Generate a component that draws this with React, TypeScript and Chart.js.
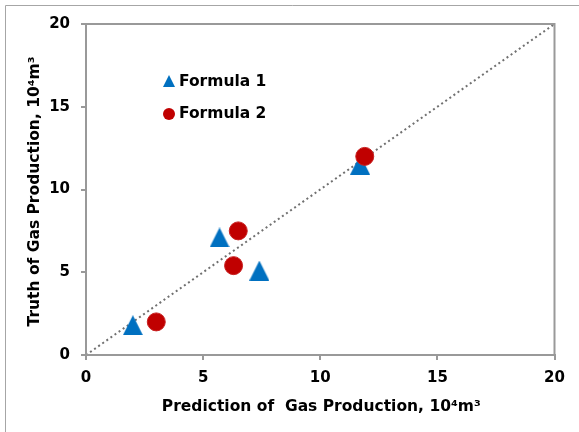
import React, { useEffect, useRef } from "react";
import { Chart, registerables } from "chart.js";

Chart.register(...registerables);

const formula1X = [2.0, 5.7, 7.4, 11.7];
const formula1Y = [1.8, 7.1, 5.1, 11.5];
const formula2X = [3.0, 6.5, 6.3, 11.9];
const formula2Y = [2.0, 7.5, 5.4, 12.0];
const diagonal = [0, 20];
const axisTicks = [0, 5, 10, 15, 20];
const seriesNames = ["Formula 1", "Formula 2"];
const xTitle = "Prediction of  Gas Production, 10\u2074m\u00B3";
const yTitle = "Truth of Gas Production, 10\u2074m\u00B3";

const BLUE = "#0070C0";
const RED = "#C00000";
const AXIS = "#999999";
const FONT = "'DejaVu Sans', sans-serif";

function makeTriangle(w: number, h: number, color: string) {
  const c = document.createElement("canvas");
  c.width = w;
  c.height = h;
  const g = c.getContext("2d")!;
  g.fillStyle = color;
  g.beginPath();
  g.moveTo(w / 2, 0);
  g.lineTo(w, h);
  g.lineTo(0, h);
  g.closePath();
  g.fill();
  return c;
}

export default function App() {
  const ref = useRef<HTMLCanvasElement>(null);

  useEffect(() => {
    const tri = makeTriangle(20, 20, BLUE);

    const decor = {
      id: "decor",
      beforeDraw(chart: any) {
        const ctx = chart.ctx;
        ctx.save();
        ctx.fillStyle = "#ffffff";
        ctx.fillRect(0, 0, chart.width, chart.height);
        ctx.strokeStyle = "#a6a6a6";
        ctx.lineWidth = 1;
        ctx.beginPath();
        ctx.moveTo(5.5, chart.height);
        ctx.lineTo(5.5, 5.5);
        ctx.lineTo(chart.width, 5.5);
        ctx.stroke();
        ctx.restore();
      },
      afterDraw(chart: any) {
        const ctx = chart.ctx;
        const a = chart.chartArea;
        ctx.save();
        ctx.strokeStyle = AXIS;
        ctx.lineWidth = 2;
        ctx.strokeRect(a.left, a.top, a.right - a.left, a.bottom - a.top);
        // titles
        ctx.fillStyle = "#000";
        ctx.font = `bold 15.5px ${FONT}`;
        ctx.textAlign = "center";
        ctx.textBaseline = "middle";
        ctx.fillText(xTitle, (a.left + a.right) / 2 + 1, 407);
        ctx.save();
        ctx.translate(35, (a.top + a.bottom) / 2 + 2);
        ctx.rotate(-Math.PI / 2);
        ctx.fillText(yTitle, 0, 0);
        ctx.restore();
        // legend
        const lx = 169;
        const ly = [81, 114];
        ctx.fillStyle = BLUE;
        ctx.beginPath();
        ctx.moveTo(lx, ly[0] - 6);
        ctx.lineTo(lx + 6, ly[0] + 6);
        ctx.lineTo(lx - 6, ly[0] + 6);
        ctx.closePath();
        ctx.fill();
        ctx.fillStyle = RED;
        ctx.beginPath();
        ctx.arc(lx, ly[1], 6, 0, Math.PI * 2);
        ctx.fill();
        ctx.fillStyle = "#000";
        ctx.textAlign = "left";
        ctx.fillText(seriesNames[0], 179, ly[0] + 1);
        ctx.fillText(seriesNames[1], 179, ly[1]);
        ctx.restore();
      },
    };

    const chart = new Chart(ref.current!, {
      type: "scatter",
      data: {
        datasets: [
          {
            label: seriesNames[1],
            data: formula2X.map((x, i) => ({ x, y: formula2Y[i] })),
            pointStyle: "circle",
            pointRadius: 9,
            backgroundColor: RED,
            borderColor: "#c82020",
            borderWidth: 1,
            order: 0,
          },
          {
            label: seriesNames[0],
            data: formula1X.map((x, i) => ({ x, y: formula1Y[i] })),
            pointStyle: tri as any,
            pointRadius: 10,
            backgroundColor: BLUE,
            borderColor: BLUE,
            order: 1,
          },
          {
            type: "line",
            label: "y = x",
            data: diagonal.map((v) => ({ x: v, y: v })),
            borderColor: "#707070",
            borderWidth: 2,
            borderDash: [2, 3],
            pointRadius: 0,
            showLine: true,
            order: 2,
          } as any,
        ],
      },
      options: {
        animation: false,
        responsive: false,
        events: [],
        layout: { padding: { top: 24, right: 24.5, left: 0, bottom: 0 } },
        plugins: {
          legend: { display: false },
          tooltip: { enabled: false },
        },
        scales: {
          x: {
            type: "linear",
            min: 0,
            max: 20,
            afterFit: (s: any) => {
              s.height = 77;
            },
            afterBuildTicks: (s: any) => {
              s.ticks = axisTicks.map((v) => ({ value: v }));
            },
            grid: {
              drawOnChartArea: false,
              drawTicks: true,
              tickLength: 5,
              color: AXIS,
              lineWidth: 2,
            },
            border: { display: true, color: AXIS, width: 2 },
            ticks: {
              color: "#000",
              padding: 9,
              font: { family: FONT, size: 15, weight: "bold" },
              maxRotation: 0,
            },
          },
          y: {
            type: "linear",
            min: 0,
            max: 20,
            afterFit: (s: any) => {
              s.width = 86;
            },
            afterBuildTicks: (s: any) => {
              s.ticks = axisTicks.map((v) => ({ value: v }));
            },
            grid: {
              drawOnChartArea: false,
              drawTicks: true,
              tickLength: 5,
              color: AXIS,
              lineWidth: 2,
            },
            border: { display: true, color: AXIS, width: 2 },
            ticks: {
              color: "#000",
              padding: 11,
              font: { family: FONT, size: 15, weight: "bold" },
            },
          },
        },
      },
      plugins: [decor],
    } as any);
    return () => chart.destroy();
  }, []);

  return (
    <div style={{ position: "absolute", left: 0, top: 0, width: 579, height: 432 }}>
      <canvas ref={ref} width={579} height={432} style={{ display: "block" }} />
    </div>
  );
}
